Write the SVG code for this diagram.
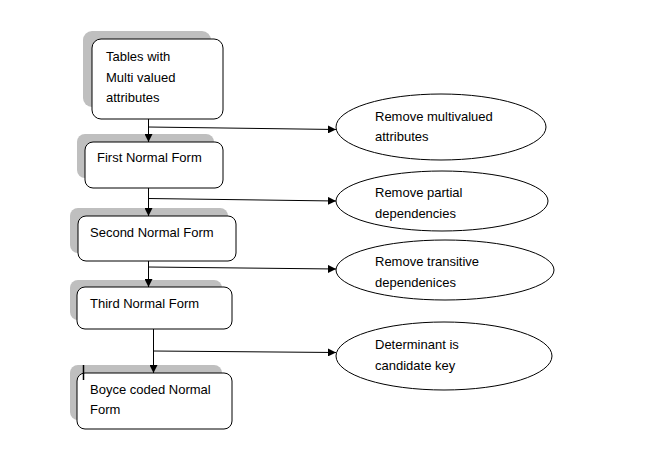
<svg xmlns="http://www.w3.org/2000/svg" width="661" height="457" viewBox="0 0 661 457">
<defs>
<style>
.shadow{fill:#bfbfbf;stroke:none}
.box{fill:#fff;stroke:#000;stroke-width:1}
.ell{fill:#fff;stroke:#000;stroke-width:1}
.t{font-family:"Liberation Sans",Arial,sans-serif;font-size:13px;fill:#000}
.c{stroke:#000;stroke-width:1;fill:none}
</style>
<marker id="ah" viewBox="0 0 10 10" refX="10" refY="5" markerWidth="8" markerHeight="8" markerUnits="userSpaceOnUse" orient="auto">
<path d="M0,0 L10,5 L0,10 Z" fill="#000"/>
</marker>
</defs>
<rect width="661" height="457" fill="#fff"/>
<g id="n1">
<rect class="shadow" x="83" y="31" width="128" height="76" rx="9"/>
<rect class="box" x="92" y="39" width="131" height="80" rx="9"/>
<text class="t" x="106" y="61">Tables with</text>
<text class="t" x="106" y="82">Multi valued</text>
<text class="t" x="106" y="102">attributes</text>
</g>
<g id="n2">
<rect class="shadow" x="77" y="134" width="137" height="44" rx="8"/>
<rect class="box" x="85" y="142" width="138" height="46" rx="8"/>
<text class="t" x="97" y="162">First Normal Form</text>
</g>
<g id="n3">
<rect class="shadow" x="70" y="208" width="158" height="45" rx="8"/>
<rect class="box" x="78" y="216" width="158" height="45" rx="8"/>
<text class="t" x="90" y="237">Second Normal Form</text>
</g>
<g id="n4">
<rect class="shadow" x="70" y="280" width="152" height="40" rx="8"/>
<rect class="box" x="77" y="287" width="155" height="42" rx="8"/>
<text class="t" x="90" y="308">Third Normal Form</text>
</g>
<g id="n5">
<rect class="shadow" x="70" y="365" width="152" height="55" rx="8"/>
<rect class="box" x="77" y="373" width="155" height="56" rx="8"/>
<line x1="83.5" y1="365" x2="83.5" y2="380" stroke="#000" stroke-width="1.5"/>
<text class="t" x="90" y="394">Boyce coded Normal</text>
<text class="t" x="90" y="414">Form</text>
</g>
<g id="e1">
<ellipse class="ell" cx="441" cy="127" rx="105" ry="33"/>
<text class="t" x="375" y="121">Remove multivalued</text>
<text class="t" x="375" y="141">attributes</text>
</g>
<g id="e2">
<ellipse class="ell" cx="442" cy="201" rx="106" ry="30"/>
<text class="t" x="375" y="197">Remove partial</text>
<text class="t" x="375" y="218">dependencies</text>
</g>
<g id="e3">
<ellipse class="ell" cx="445" cy="270" rx="109" ry="30"/>
<text class="t" x="375" y="266">Remove transitive</text>
<text class="t" x="375" y="287">dependenices</text>
</g>
<g id="e4">
<ellipse class="ell" cx="444" cy="356" rx="108" ry="34"/>
<text class="t" x="375" y="349">Determinant is</text>
<text class="t" x="375" y="370">candidate key</text>
</g>
<g id="connectors">
<line class="c" x1="148.5" y1="119" x2="148.5" y2="142" marker-end="url(#ah)"/>
<line class="c" x1="148.5" y1="188" x2="148.5" y2="216" marker-end="url(#ah)"/>
<line class="c" x1="148.5" y1="261" x2="148.5" y2="287" marker-end="url(#ah)"/>
<line class="c" x1="153.5" y1="329" x2="153.5" y2="373" marker-end="url(#ah)"/>
<line class="c" x1="148" y1="127" x2="336" y2="129.5" marker-end="url(#ah)"/>
<line class="c" x1="148" y1="198.5" x2="336" y2="201" marker-end="url(#ah)"/>
<line class="c" x1="148" y1="267" x2="336" y2="269" marker-end="url(#ah)"/>
<line class="c" x1="153" y1="351" x2="336" y2="352.5" marker-end="url(#ah)"/>
</g>
</svg>
